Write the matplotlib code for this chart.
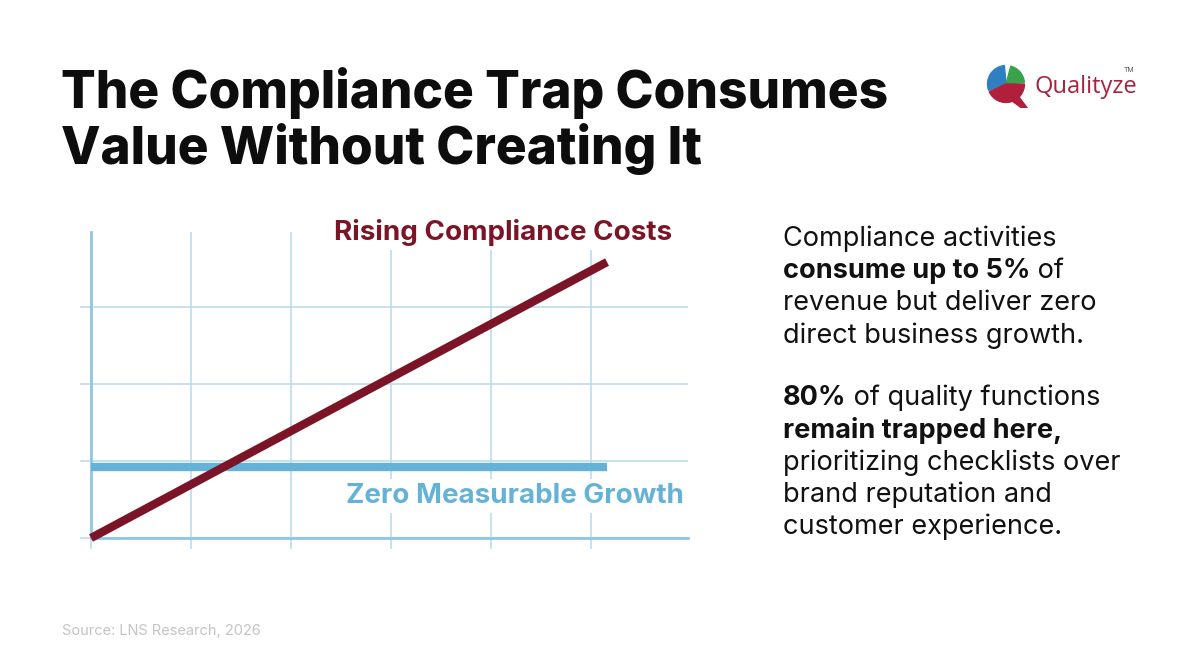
import numpy as np
import matplotlib
matplotlib.use('Agg')
import matplotlib.pyplot as plt
from matplotlib.patches import Wedge, Polygon

plt.rcParams['font.family'] = ['Inter', 'DejaVu Sans']

# data
x_cost = [0, 5.16]
y_cost = [0, 3.58]
x_growth = [0, 5.16]
y_growth = [0.92, 0.92]
x_grid = [0, 1, 2, 3, 4, 5]
y_grid = [0, 1, 2, 3]

title_lines = ['The Compliance Trap Consumes', 'Value Without Creating It']
cost_label = 'Rising Compliance Costs'
growth_label = 'Zero Measurable Growth'
source = 'Source: LNS Research, 2026'
# (bold part, regular part) per line
side_lines = [
    ('', 'Compliance activities'),
    ('consume up to 5%', ' of'),
    ('', 'revenue but deliver zero'),
    ('', 'direct business growth.'),
    None,
    ('80%', ' of quality functions'),
    ('remain trapped here,', ''),
    ('', 'prioritizing checklists over'),
    ('', 'brand reputation and'),
    ('', 'customer experience.'),
]

red = '#7b1426'
blue = '#65b2d9'
grid_c = '#bcdcec'
spine_c = '#8fc6e2'

W, H = 1200, 670
fig = plt.figure(figsize=(12, 6.7), dpi=100)
fig.patch.set_facecolor('white')

# title
for i, line in enumerate(title_lines):
    fig.text(61 / W, 1 - (108 + 56 * i) / H, line, fontsize=37, fontweight='heavy',
             color='#0d0d0d', va='baseline', ha='left')

# logo
lax = fig.add_axes([982 / W, 1 - 108 / H, 48 / W, 48 / H])
lax.set_xlim(-1.3, 1.3)
lax.set_ylim(-1.3, 1.3)
lax.set_aspect('equal')
lax.axis('off')
lax.add_patch(Wedge((0, 0), 1, 95, 200, color='#2f7fc1'))
lax.add_patch(Wedge((0, 0), 1, 5, 75, color='#3aa24a'))
lax.add_patch(Wedge((0, 0), 1, 205, 360, color='#b0203c'))
lax.add_patch(Polygon([[0.3, -0.9], [0.7, -0.7], [1.15, -1.3], [0.85, -1.3]], color='#b0203c'))
fig.text(1035 / W, 1 - 87 / H, 'Qualityze', fontsize=17, color='#a6243f',
         family=['Open Sans', 'DejaVu Sans'], va='center', ha='left')
fig.text(1124 / W, 1 - 70 / H, 'TM', fontsize=5, color='#555555', va='center', ha='left')

# chart
ax = fig.add_axes([91 / W, 1 - 538 / H, 597 / W, 306 / H])
ax.set_xlim(0, 5.97)
ax.set_ylim(0, 3.97)
ax.set_xticks(x_grid)
ax.set_yticks(y_grid)
ax.set_xticklabels([])
ax.set_yticklabels([])
ax.tick_params(length=8, width=1.2, color=grid_c, direction='out')
ax.grid(True, color=grid_c, linewidth=1.2)
for s in ['top', 'right']:
    ax.spines[s].set_visible(False)
for s in ['left', 'bottom']:
    ax.spines[s].set_color(spine_c)
    ax.spines[s].set_linewidth(2)
ax.set_axisbelow(True)

ax.plot(x_growth, y_growth, color=blue, linewidth=6, solid_capstyle='butt', zorder=3)
ax.plot(x_cost, y_cost, color=red, linewidth=6, solid_capstyle='butt', zorder=4,
        clip_on=False)

ax.text(5.81, 3.97, cost_label, fontsize=20, fontweight='bold',
        color=red, ha='right', va='center',
        bbox=dict(facecolor='white', edgecolor='none', pad=3), zorder=5)
ax.text(5.93, 0.545, growth_label, fontsize=20, fontweight='bold', color=blue,
        ha='right', va='center',
        bbox=dict(facecolor='white', edgecolor='none', pad=3), zorder=5)

# source
fig.text(62 / W, 1 - 631 / H, source, fontsize=10.5, color='#c4c4c4', va='center', ha='left')

# side text
fig.canvas.draw()
renderer = fig.canvas.get_renderer()
x0 = 783
y = 246
step = 32.2
for item in side_lines:
    if item is None:
        y += step * 0.95
        continue
    bold, reg = item
    xp = x0
    if bold:
        t = fig.text(xp / W, 1 - y / H, bold, fontsize=19.5, fontweight='bold',
                     color='#111111', va='baseline', ha='left')
        bb = t.get_window_extent(renderer)
        xp = bb.x1
    if reg:
        fig.text(xp / W, 1 - y / H, reg, fontsize=19.5, color='#111111',
                 va='baseline', ha='left')
    y += step

fig.savefig('out.png', dpi=100, facecolor='white')
